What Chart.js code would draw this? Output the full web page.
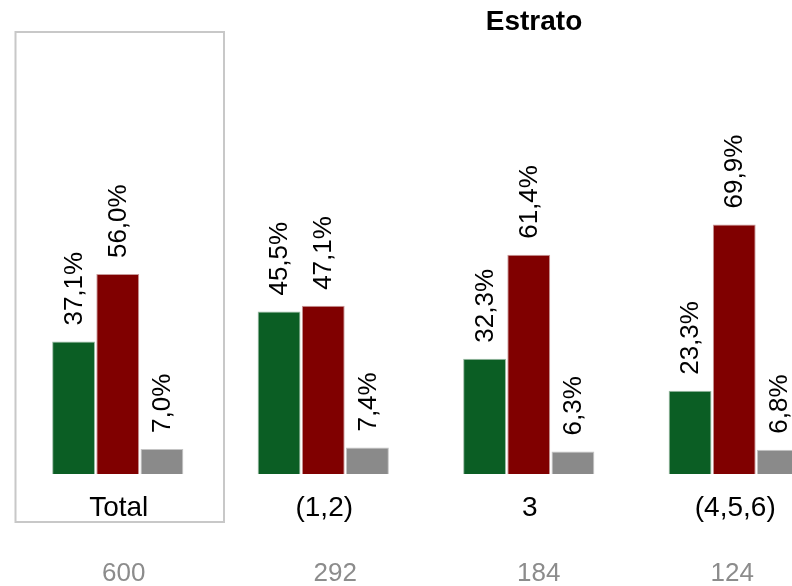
<!DOCTYPE html>
<html>
<head>
<meta charset="utf-8">
<script src="https://cdn.jsdelivr.net/npm/chart.js@4.4.0/dist/chart.umd.min.js"></script>
<style>
    html, body { margin: 0; padding: 0; background: #ffffff; overflow: hidden; }
    #wrap { width: 852px; height: 586px; }
</style>
</head>
<body>
<div id="wrap"><canvas id="chart" width="852" height="586"></canvas></div>
<script>
'use strict';

/******************************************************************************************
DATA
******************************************************************************************/

var categories = ['Total', '(1,2)', '3', '(4,5,6)'];
var counts = ['600', '292', '184', '124'];
var serie_green = [37.1, 45.5, 32.3, 23.3];
var serie_red = [56.0, 47.1, 61.4, 69.9];
var serie_gray = [7.0, 7.4, 6.3, 6.8];
var chart_title = 'Estrato';

// small horizontal shifts of the count labels, as in the original layout
var count_dx = [6, 12, 10, -2];

var FONT = '"Liberation Sans", Arial, Helvetica, sans-serif';

function fmt(v) {
    return v.toFixed(1).replace('.', ',') + '%';
}

/******************************************************************************************
LABELS PLUGIN
******************************************************************************************/

var labels_plugin = {
    id: 'labels_plugin',
    afterDatasetsDraw: function(chart) {
        var ctx = chart.ctx;
        var x = chart.scales.x;

        // box around the Total group
        var half = (x.getPixelForValue(1) - x.getPixelForValue(0)) / 2;
        var cx0 = x.getPixelForValue(0);
        ctx.save();
        ctx.strokeStyle = '#c8c8c8';
        ctx.lineWidth = 2;
        ctx.strokeRect(cx0 - half + 0.5, 32, 2 * half + 3, 490);
        ctx.restore();

        // value labels, rotated
        chart.data.datasets.forEach(function(ds, di) {
            var meta = chart.getDatasetMeta(di);
            meta.data.forEach(function(bar, i) {
                ctx.save();
                ctx.translate(bar.x + 1, bar.y - 16);
                ctx.rotate(-Math.PI / 2);
                ctx.font = '26px ' + FONT;
                ctx.fillStyle = '#000000';
                ctx.textAlign = 'left';
                ctx.textBaseline = 'middle';
                ctx.fillText(fmt(ds.data[i]), 0, 0);
                ctx.restore();
            });
        });

        // category labels and counts
        ctx.save();
        ctx.textAlign = 'center';
        ctx.textBaseline = 'middle';
        categories.forEach(function(c, i) {
            var px = x.getPixelForValue(i);
            ctx.font = '28px ' + FONT;
            ctx.fillStyle = '#000000';
            ctx.fillText(c, px + 1, 508);
            ctx.font = '26px ' + FONT;
            ctx.fillStyle = '#8c8c8c';
            ctx.fillText(counts[i], px + count_dx[i], 574);
        });

        // title
        ctx.font = 'bold 28px ' + FONT;
        ctx.fillStyle = '#000000';
        ctx.fillText(chart_title, 534, 22);
        ctx.restore();
    }
};

/******************************************************************************************
CHART
******************************************************************************************/

var ctx = document.getElementById('chart').getContext('2d');
var myChart = new Chart(ctx, {
    type: 'bar',
    data: {
        labels: categories,
        datasets: [{
            data: serie_green,
            backgroundColor: '#0b5e24',
            borderColor: '#9bbba4',
            borderWidth: 1
        }, {
            data: serie_red,
            backgroundColor: '#800000',
            borderColor: '#c99a9a',
            borderWidth: 1
        }, {
            data: serie_gray,
            backgroundColor: '#8a8a8a',
            borderColor: '#c4c4c4',
            borderWidth: 1
        }]
    },
    options: {
        responsive: false,
        animation: false,
        devicePixelRatio: 1,
        layout: {
            padding: { left: 15, right: 15, top: 117, bottom: 112 }
        },
        datasets: {
            bar: {
                categoryPercentage: 0.645,
                barPercentage: 0.97
            }
        },
        plugins: {
            legend: { display: false },
            tooltip: { enabled: false },
            title: { display: false }
        },
        scales: {
            x: {
                display: false,
                offset: true
            },
            y: {
                display: false,
                min: 0,
                max: 100
            }
        }
    },
    plugins: [labels_plugin]
});
</script>
</body>
</html>
